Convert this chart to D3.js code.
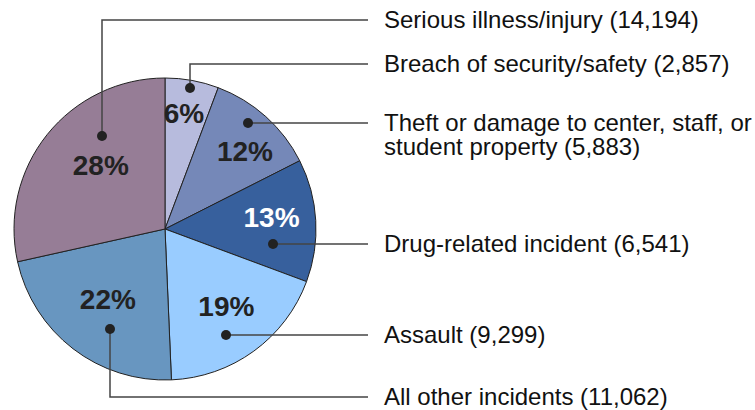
<!DOCTYPE html>
<html>
<head>
<meta charset="utf-8">
<script src="https://cdn.jsdelivr.net/npm/d3@7"></script>
<style>
  body { margin: 0; background: #fff; }
  text { font-family: Arial, "Liberation Sans", sans-serif; }
</style>
</head>
<body>
<div id="chart"></div>
<script>
// slices, clockwise from 12 o'clock
var categories = ['Breach of security/safety', 'Theft or damage to center, staff, or student property',
  'Drug-related incident', 'Assault', 'All other incidents', 'Serious illness/injury'];
var counts = [2857, 5883, 6541, 9299, 11062, 14194];
var percents = ['6%', '12%', '13%', '19%', '22%', '28%'];
var colors = ['#b7bbdd', '#7588b8', '#37609d', '#99ccff', '#6896c0', '#967d96'];
var pctColors = ['#222', '#222', '#fff', '#222', '#222', '#222'];

var width = 755, height = 410;
var cx = 165, cy = 229, r = 151;

var svg = d3.select('#chart').append('svg')
  .attr('width', width)
  .attr('height', height);

var pie = d3.pie().sort(null).value(function (d) { return d; });
var arcs = pie(counts);
var arc = d3.arc().innerRadius(0).outerRadius(r);

var g = svg.append('g').attr('transform', 'translate(' + cx + ',' + cy + ')');

g.selectAll('path').data(arcs)
  .enter().append('path')
  .attr('d', arc)
  .attr('fill', function (d, i) { return colors[i]; })
  .attr('stroke', '#222')
  .attr('stroke-width', 1);

// percent label spot: [fraction of radius, fraction along the slice's angle]
var pctPos = [[0.78, 0.45], [0.74, 0.59], [0.71, 0.43], [0.65, 0.46], [0.60, 0.52], [0.60, 0.56]];
g.selectAll('text.pct').data(arcs)
  .enter().append('text')
  .attr('class', 'pct')
  .attr('transform', function (d, i) {
    var a = d.startAngle + (d.endAngle - d.startAngle) * pctPos[i][1];
    var rr = r * pctPos[i][0];
    return 'translate(' + (Math.sin(a) * rr) + ',' + (-Math.cos(a) * rr) + ')';
  })
  .attr('text-anchor', 'middle')
  .attr('dy', '0.36em')
  .attr('font-size', 28)
  .attr('font-weight', 'bold')
  .attr('fill', function (d, i) { return pctColors[i]; })
  .text(function (d, i) { return percents[i]; });

// leader lines: dot inside slice -> elbow -> label column
var labelX = 368;
var dots = [[25, -141], [83, -106], [108, 15], [61, 106], [-55, 100], [-63, -93]];
var lineY = [64, 123, 244, 335, 397, 20];
var fmt = d3.format(',');

var leaders = svg.append('g');
arcs.forEach(function (d, i) {
  var dx = cx + dots[i][0], dy = cy + dots[i][1];
  var pts = [[dx, dy]];
  if (Math.abs(lineY[i] - dy) > 2) pts.push([dx, lineY[i]]);
  pts.push([labelX, lineY[i]]);
  leaders.append('path')
    .attr('d', d3.line()(pts))
    .attr('fill', 'none')
    .attr('stroke', '#444')
    .attr('stroke-width', 1.5);
  leaders.append('circle')
    .attr('cx', dx).attr('cy', dy).attr('r', 5)
    .attr('fill', '#222');
});

// category labels
var labelLines = [
  ['Breach of security/safety (' + fmt(counts[0]) + ')'],
  ['Theft or damage to center, staff, or', 'student property (' + fmt(counts[1]) + ')'],
  ['Drug-related incident (' + fmt(counts[2]) + ')'],
  ['Assault (' + fmt(counts[3]) + ')'],
  ['All other incidents (' + fmt(counts[4]) + ')'],
  ['Serious illness/injury (' + fmt(counts[5]) + ')']
];
labelLines.forEach(function (lines, i) {
  var t = svg.append('text')
    .attr('x', 384)
    .attr('y', lineY[i])
    .attr('font-size', 24)
    .attr('fill', '#111');
  lines.forEach(function (s, j) {
    t.append('tspan')
      .attr('x', 384)
      .attr('dy', j === 0 ? '0.35em' : '1.0em')
      .text(s);
  });
});
</script>
</body>
</html>
